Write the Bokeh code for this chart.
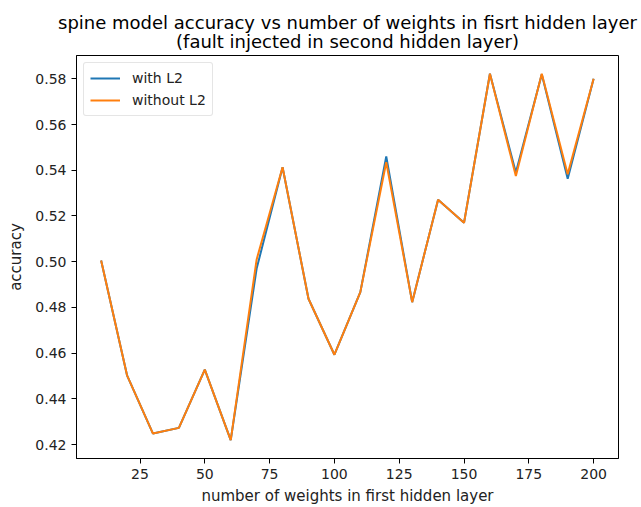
from bokeh.plotting import figure
from bokeh.models import Range1d, FixedTicker, NumeralTickFormatter, Legend, LegendItem, Title
from bokeh.embed import file_html
from bokeh.resources import INLINE

weights = [10, 20, 30, 40, 50, 60, 70, 80, 90, 100, 110, 120, 130, 140, 150, 160, 170, 180, 190, 200]
acc_with_l2 = [0.5005, 0.4503, 0.4248, 0.4273, 0.4528, 0.4219, 0.4970, 0.5413, 0.4838, 0.4593,
               0.4867, 0.5460, 0.4823, 0.5271, 0.5170, 0.5822, 0.5390, 0.5820, 0.5363, 0.5800]
acc_without_l2 = [0.5005, 0.4503, 0.4248, 0.4273, 0.4528, 0.4219, 0.5010, 0.5413, 0.4838, 0.4593,
                  0.4867, 0.5435, 0.4823, 0.5271, 0.5170, 0.5822, 0.5375, 0.5822, 0.5383, 0.5800]
x_ticks = [25, 50, 75, 100, 125, 150, 175, 200]
y_ticks = [0.42, 0.44, 0.46, 0.48, 0.50, 0.52, 0.54, 0.56, 0.58]

FONT = "DejaVu Sans"

p = figure(width=641, height=507, output_backend="svg", toolbar_location=None,
           x_range=Range1d(0.5, 209.6), y_range=Range1d(0.4139, 0.5902),
           min_border_left=76, min_border_right=23, min_border_top=55, min_border_bottom=49)
p.title = None
t = Title(text="spine model accuracy vs number of weights in fisrt hidden layer\n(fault injected in second hidden layer)",
          align="center", text_align="center", text_font=FONT, text_font_size="18px",
          text_font_style="normal", text_color="black", standoff=6, offset=0,
          text_line_height=0.95)
p.add_layout(t, "above")

p.background_fill_color = "white"
p.border_fill_color = "white"
p.outline_line_color = "black"
p.outline_line_width = 1
p.xgrid.visible = False
p.ygrid.visible = False

r1 = p.line(weights, acc_with_l2, line_color="#1f77b4", line_width=2)
r2 = p.line(weights, acc_without_l2, line_color="#ff7f0e", line_width=2)

for ax in (p.xaxis[0], p.yaxis[0]):
    ax.major_label_text_font = FONT
    ax.major_label_text_font_size = "14px"
    ax.major_label_text_color = "#222222"
    ax.axis_label_text_font = FONT
    ax.axis_label_text_font_size = "15px"
    ax.axis_label_text_font_style = "normal"
    ax.axis_label_text_color = "#222222"
    ax.major_tick_out = 5
    ax.major_tick_in = 0
    ax.minor_tick_out = 0
    ax.minor_tick_in = 0
    ax.axis_line_color = "black"
    ax.major_tick_line_color = "black"

p.xaxis[0].ticker = FixedTicker(ticks=x_ticks)
p.yaxis[0].ticker = FixedTicker(ticks=y_ticks)
p.yaxis[0].formatter = NumeralTickFormatter(format="0.00")
p.xaxis[0].axis_label = "number of weights in first hidden layer"
p.yaxis[0].axis_label = "accuracy"
p.xaxis[0].axis_label_standoff = 5
p.yaxis[0].axis_label_standoff = 7

legend = Legend(items=[LegendItem(label="with L2", renderers=[r1]),
                       LegendItem(label="without L2", renderers=[r2])],
                location="top_left")
legend.label_text_font = FONT
legend.label_text_font_size = "14px"
legend.label_text_color = "#222222"
legend.border_line_color = "#cccccc"
legend.border_line_width = 1
legend.border_radius = 3
legend.background_fill_alpha = 0.8
legend.glyph_width = 30
legend.glyph_height = 18
legend.label_height = 18
legend.spacing = 4
legend.padding = 6
legend.margin = 7
legend.label_standoff = 12
p.add_layout(legend)

open("out.html", "w").write(file_html(p, INLINE))
